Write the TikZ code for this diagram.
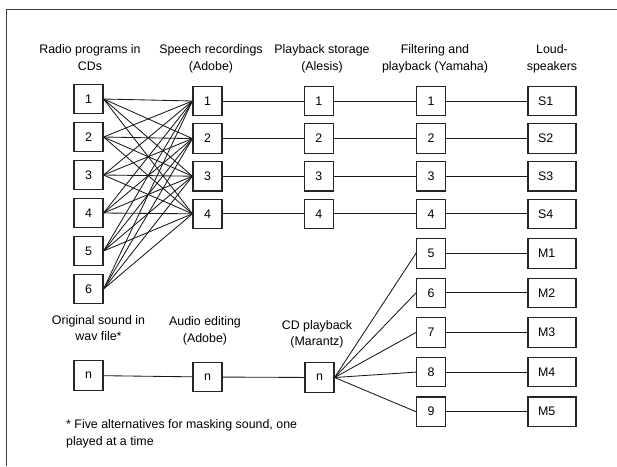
\documentclass[tikz,border=0pt]{standalone}
\usepackage{fontspec}
\setmainfont{Liberation Sans}
\begin{document}
\begin{tikzpicture}[x=1pt,y=-1pt,
  box/.style={draw=black!85, line width=1.1pt, minimum width=29pt, minimum height=29.5pt, inner sep=0pt, font=\fontsize{12.4}{15}\selectfont},
  wbox/.style={box, minimum width=48pt, text width=28pt, align=left},
  hdr/.style={align=center, inner sep=0pt, anchor=north, font=\fontsize{12.4}{16.5}\selectfont},
  wire/.style={draw=black!90, line width=0.85pt},
  frame/.style={draw=black!75, line width=0.9pt}]
\useasboundingbox (0,0) rectangle (617,466);
\coordinate (fa) at (617,9.5);
\coordinate (fb) at (6,9.5);
\coordinate (fc) at (6,466);
\draw[frame] (fa) -- (fb) -- (fc);
% boxes
\foreach \i/\y in {1/99,2/137,3/175,4/213,5/251,6/289}
  \node[box] (r\i) at (88.5,\y) {\i};
\foreach \i/\y in {1/101,2/138.6,3/176.2,4/213.8} {
  \node[box] (s\i) at (207.5,\y) {\i};
  \node[box] (p\i) at (318.7,\y) {\i};
  \node[box] (f\i) at (431,\y) {\i};
  \node[wbox] (l\i) at (552,\y) {S\i};
}
\foreach \i/\y/\m in {5/253.3/1,6/292.9/2,7/332.5/3,8/372.1/4,9/411.7/5} {
  \node[box] (f\i) at (431,\y) {\i};
  \node[wbox] (m\m) at (552,\y) {M\m};
}
\node[box] (n1) at (88.5,375.5) {n};
\node[box] (n2) at (207.5,377) {n};
\node[box] (n3) at (319.5,377.5) {n};
% wires
\foreach \i in {1,...,6}
  \foreach \j in {1,...,4}
    \draw[wire] (r\i.east) -- (s\j.west);
\foreach \i in {1,...,4}
  \draw[wire] (s\i) -- (p\i) -- (f\i) -- (l\i);
\draw[wire] (n1) -- (n2) -- (n3);
\foreach \i in {5,...,9}
  \draw[wire] (n3.east) -- (f\i.west);
\foreach \i/\m in {5/1,6/2,7/3,8/4,9/5}
  \draw[wire] (f\i) -- (m\m);
% labels
\node[hdr] (h1) at (90,44.5) {Radio programs in\\CDs};
\node[hdr] (h2) at (211,44.5) {Speech recordings\\(Adobe)};
\node[hdr] (h3) at (322,44.5) {Playback storage\\(Alesis)};
\node[hdr] (h4) at (435,44.5) {Filtering and\\playback (Yamaha)};
\node[hdr] (h5) at (552,44.5) {Loud-\\speakers};
\node[hdr] (h6) at (98.5,315) {Original sound in\\wav file*};
\node[hdr] (h7) at (205,316.5) {Audio editing\\(Adobe)};
\node[hdr] (h8) at (317,320) {CD playback\\(Marantz)};
\node[hdr, align=left, anchor=north west] (fn) at (66,419.5) {* Five alternatives for masking sound, one\\played at a time};
\end{tikzpicture}
\end{document}
